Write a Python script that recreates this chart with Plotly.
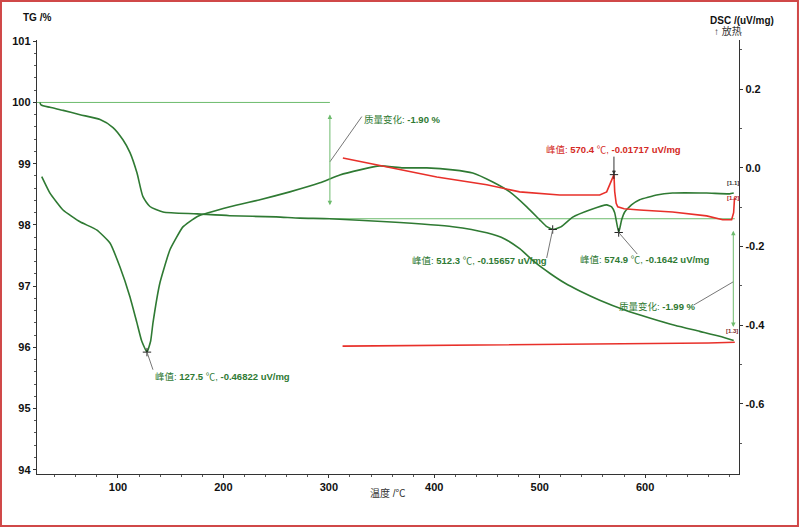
import plotly.graph_objects as go

# TG curve (left axis, %)
tg_temp = [26, 27, 35.5, 48, 64, 83, 95.3, 104.7, 111.4, 118, 123.7, 130.3, 142.7, 175, 206,
           250, 272.5, 301, 355, 417.5, 449.8, 466.8, 481, 495.3, 509.5, 523.7, 538, 556.9,
           580.6, 604.3, 628, 651.7, 670.6, 684]
tg_val = [100.0, 99.96, 99.92, 99.87, 99.80, 99.72, 99.59, 99.39, 99.18, 98.85, 98.46, 98.30,
          98.21, 98.18, 98.15, 98.13, 98.11, 98.10, 98.05, 97.97, 97.87, 97.77, 97.61, 97.39,
          97.21, 97.05, 96.92, 96.77, 96.61, 96.48, 96.36, 96.26, 96.18, 96.11]

# DSC heating curve (right axis, uV/mg)
dsc_temp = [27.7, 35.5, 47.9, 64, 80.1, 92.4, 101.9, 111.4, 118, 122.5, 127.5, 131, 133.2,
            139.8, 149.3, 161.6, 174.9, 206.2, 234.6, 263, 291.5, 310.4, 329.4, 348.3, 370.1,
            392.9, 417.5, 436.5, 455.5, 471.6, 487.7, 500, 506, 512.3, 520, 531.3, 547.4,
            563.5, 568.2, 571.1, 574.9, 577.7, 580.6, 587, 594.8, 610.9, 626, 658.3, 680, 684]
dsc_val = [-0.022, -0.064, -0.107, -0.137, -0.158, -0.191, -0.252, -0.328, -0.394, -0.44,
           -0.46822, -0.44, -0.394, -0.292, -0.208, -0.150, -0.124, -0.099, -0.081, -0.061,
           -0.038, -0.018, -0.005, 0.005, 0.0, 0.0, -0.005, -0.013, -0.036, -0.061, -0.099,
           -0.132, -0.148, -0.15657, -0.150, -0.125, -0.107, -0.094, -0.099, -0.114, -0.1642,
           -0.132, -0.112, -0.094, -0.081, -0.069, -0.064, -0.064, -0.066, -0.064]

# second DSC curve (red)
red_temp = [313.3, 355, 402.4, 449.8, 481, 519, 545, 556.9, 563.5, 567.3, 569.5, 570.4,
            571.1, 572.5, 574, 580, 594.8, 626, 658.3, 673.5, 682, 683.9, 684.8]
red_val = [0.025, 0.003, -0.023, -0.043, -0.061, -0.069, -0.070, -0.069, -0.061, -0.038,
           -0.027, -0.01717, -0.06, -0.09, -0.099, -0.104, -0.107, -0.112, -0.122, -0.132,
           -0.132, -0.114, -0.075]
red2_temp = [313, 360, 410, 460, 510, 560, 610, 660, 685]
red2_val = [-0.453, -0.452, -0.451, -0.450, -0.449, -0.448, -0.447, -0.445, -0.443]

# mass change reference levels
ref1_temp = [23.2, 301]
ref1_val = [100.0, 100.0]
ref2_temp = [301, 685]
ref2_val = [98.10, 98.10]

# peaks
peak_temp = [127.5, 512.3, 574.9]
peak_val = [-0.46822, -0.15657, -0.1642]
red_peak = (570.4, -0.01717)

dark_green = '#2f7a33'
light_green = '#6dbb6d'
red = '#e8302a'
font_fam = 'Liberation Sans, Arial, Noto Sans CJK SC'

fig = go.Figure()

fig.add_trace(go.Scatter(x=ref1_temp, y=ref1_val, mode='lines',
                         line=dict(color=light_green, width=1)))
fig.add_trace(go.Scatter(x=ref2_temp, y=ref2_val, mode='lines',
                         line=dict(color=light_green, width=1)))
fig.add_trace(go.Scatter(x=tg_temp, y=tg_val, mode='lines',
                         line=dict(color=dark_green, width=1.6, shape='spline', smoothing=0.6)))
fig.add_trace(go.Scatter(x=dsc_temp, y=dsc_val, mode='lines', yaxis='y2',
                         line=dict(color=dark_green, width=1.6, shape='spline', smoothing=0.4)))
fig.add_trace(go.Scatter(x=red_temp, y=red_val, mode='lines', yaxis='y2',
                         line=dict(color=red, width=1.6)))
fig.add_trace(go.Scatter(x=red2_temp, y=red2_val, mode='lines', yaxis='y2',
                         line=dict(color=red, width=1.6)))
# peak crosses
fig.add_trace(go.Scatter(x=peak_temp + [red_peak[0]], y=peak_val + [red_peak[1]],
                         mode='markers', yaxis='y2',
                         marker=dict(symbol='cross-thin', size=6,
                                     line=dict(color='#222', width=1))))

# leader lines for labels (text position in data units)
leaders = [
    ([127.5, 133.2], [-0.46822, -0.513]),
    ([512.3, 506.6], [-0.15657, -0.229]),
    ([574.9, 592.5], [-0.1642, -0.219]),
]
for lx, ly in leaders:
    fig.add_trace(go.Scatter(x=lx, y=ly, mode='lines', yaxis='y2',
                             line=dict(color='#777', width=1)))
for lx, ly in [([301, 331.3], [99.03, 99.77]), ([683.6, 646], [97.07, 96.69])]:
    fig.add_trace(go.Scatter(x=lx, y=ly, mode='lines',
                             line=dict(color='#777', width=1)))

tf = dict(family=font_fam, size=9.5, color=dark_green)
labels = [
    (133.2, -0.529, 'left', '峰值: <b>127.5</b> ℃, <b>-0.46822 uV/mg</b>'),
    (443.1, -0.236, 'center', '峰值: <b>512.3</b> ℃, <b>-0.15657 uV/mg</b>'),
    (536.5, -0.234, 'left', '峰值: <b>574.9</b> ℃, <b>-0.1642 uV/mg</b>'),
]
for x, y, anc, t in labels:
    fig.add_annotation(x=x, y=y, yref='y2', text=t, showarrow=False,
                       xanchor=anc, yanchor='middle', font=tf)

fig.add_annotation(x=red_peak[0], y=red_peak[1], yref='y2',
                   text='峰值: <b>570.4</b> ℃, <b>-0.01717 uV/mg</b>',
                   showarrow=True, arrowhead=2, arrowsize=0.8, arrowwidth=1,
                   arrowcolor='#333', ax=0, ay=-25,
                   font=dict(family=font_fam, size=9.5, color='#d42a24'))

fig.add_annotation(x=331.3, y=99.72, text='质量变化: <b>-1.90 %</b>', showarrow=False,
                   xanchor='left', yanchor='middle', font=tf)
fig.add_annotation(x=573, y=96.66, text='质量变化: <b>-1.99 %</b>', showarrow=False,
                   xanchor='left', yanchor='middle', font=tf)

# double arrows for mass change
for xa, y_top, y_bot in [(301, 100.0, 98.10), (683.6, 98.10, 96.11)]:
    fig.add_annotation(x=xa, y=y_top, ax=xa, ay=y_bot, axref='x', ayref='y',
                       text='', showarrow=True, arrowside='end+start',
                       arrowhead=2, arrowsize=0.9, arrowwidth=1, arrowcolor=light_green,
                       standoff=12, startstandoff=12)

# curve markers
fig.add_annotation(x=683, y=-0.038, yref='y2', text='<b>[1.1]</b>', showarrow=False,
                   font=dict(family=font_fam, size=6, color='#333'))
fig.add_annotation(x=683, y=-0.076, yref='y2', text='<b>[1.2]</b>', showarrow=False,
                   font=dict(family=font_fam, size=6, color='#b02020'))
fig.add_annotation(x=682, y=96.27, text='<b>[1.3]</b>', showarrow=False,
                   font=dict(family=font_fam, size=6, color='#7a1f1f'))

# axis titles
hf = dict(family=font_fam, size=10, color='#111')
fig.add_annotation(xref='paper', yref='paper', x=0.0, y=1.051, text='<b>TG /%</b>',
                   xanchor='center', yanchor='middle', showarrow=False, font=hf)
fig.add_annotation(xref='paper', yref='paper', x=1.0043, y=1.046,
                   text='<b>DSC /(uV/mg)</b>', xanchor='center', yanchor='middle',
                   showarrow=False, font=hf)
fig.add_annotation(xref='paper', yref='paper', x=0.984, y=1.0207, text='↑ 放热',
                   xanchor='center', yanchor='middle',
                   showarrow=False, font=dict(family=font_fam, size=10, color='#333'))
fig.add_annotation(xref='paper', yref='paper', x=0.5, y=-0.0438, text='温度 /℃',
                   xanchor='center', yanchor='middle',
                   showarrow=False, font=dict(family=font_fam, size=10, color='#333'))

# red frame around the picture
fig.add_shape(type='rect', xref='paper', yref='paper',
              x0=-0.0513, x1=1.084, y0=-0.1198, y1=1.0899,
              line=dict(color='#d04848', width=2))

axis_common = dict(
    showgrid=False, zeroline=False, showline=True, linecolor='#333', linewidth=1.4,
    ticks='outside', ticklen=3, tickcolor='#333',
    tickfont=dict(family=font_fam, size=11, color='#111', weight='bold'),
)

fig.update_layout(
    width=800, height=528,
    margin=dict(l=37, r=61, t=40, b=54),
    plot_bgcolor='white', paper_bgcolor='white',
    showlegend=False,
    xaxis=dict(range=[23.2, 689], tickvals=[100, 200, 300, 400, 500, 600],
               minor=dict(dtick=20, ticks='outside', ticklen=2, tickcolor='#555'),
               **axis_common),
    yaxis=dict(range=[93.93, 101.02], dtick=1,
               minor=dict(dtick=0.2, ticks='outside', ticklen=2, tickcolor='#555'),
               **axis_common),
    yaxis2=dict(range=[-0.778, 0.325], overlaying='y', side='right', anchor='x',
                tickvals=[-0.6, -0.4, -0.2, 0.0, 0.2], ticktext=['-0.6', '-0.4', '-0.2', '0.0', '0.2'],
                minor=dict(dtick=0.1, ticks='outside', ticklen=2, tickcolor='#555'),
                **axis_common),
)

# page body has a default margin; drop it so the figure sits at the window corner
fig.write_html("out.html", config={'displayModeBar': False},
               post_script="document.body.style.margin='0px';")
